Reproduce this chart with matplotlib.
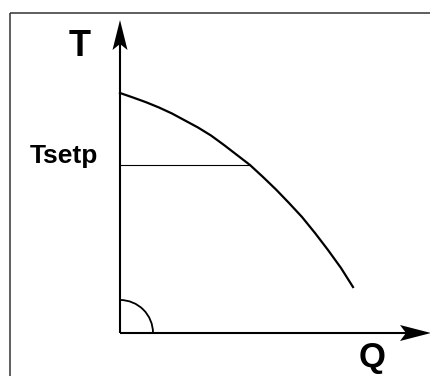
"""Pump curve sketch: T against Q with a setpoint line."""
import matplotlib
matplotlib.use("Agg")
import matplotlib.pyplot as plt
from matplotlib.patches import Arc, Polygon

# ================== Data ================== #
# curve (axis units = pixels from the origin)
q_curve = [0, 13, 26, 39, 52, 65, 78, 91, 104, 117, 130,
           143, 156, 169, 182, 195, 208, 221, 233]
t_curve = [240, 235.5, 230.8, 225.5, 219.5, 212.5, 205.5, 197.5, 188, 178, 168,
           156, 143.5, 130, 116, 100, 83, 65, 46]
t_setp = 168
q_setp = 130

x_label = "Q"
y_label = "T"
setp_label = "Tsetp"

# ================== Figure ================== #
plt.rcParams["font.family"] = ["Liberation Sans", "DejaVu Sans"]
fig = plt.figure(figsize=(4.31, 3.76), dpi=100)
ax = fig.add_axes([0, 0, 1, 1])
ax.set_xlim(-120, 311)
ax.set_ylim(-43, 333)
ax.axis("off")

# frame (cropped: only top and left visible)
ax.plot([-110, 311], [320, 320], color="#333333", lw=1.1, solid_capstyle="butt")
ax.plot([-110, -110], [320, -43], color="#333333", lw=1.1, solid_capstyle="butt")

# axes with notched arrow heads
y_tip, x_tip = 313, 311
ax.plot([0, 0], [0, y_tip - 24], color="black", lw=1.5, solid_capstyle="butt")
ax.plot([0, x_tip - 25], [0, 0], color="black", lw=1.5, solid_capstyle="butt")
ax.add_patch(Polygon([(0, y_tip), (7.5, y_tip - 30), (0, y_tip - 24),
                      (-7.5, y_tip - 30)], closed=True, color="black", lw=0))
ax.add_patch(Polygon([(x_tip, 0), (x_tip - 31, 8), (x_tip - 25, 0),
                      (x_tip - 31, -8)], closed=True, color="black", lw=0))

# right angle marker
ax.add_patch(Arc((0, 0), 66, 66, theta1=0, theta2=90, color="black", lw=1.3))

# pump curve and setpoint line
ax.plot(q_curve, t_curve, color="black", lw=1.6, solid_joinstyle="round")
ax.plot([0, q_setp], [t_setp, t_setp], color="black", lw=0.8)

# labels
ax.text(-40, 286, y_label, fontsize=26, fontweight="bold", ha="center", va="center")
ax.text(-90, 170, setp_label, fontsize=19, fontweight="bold", ha="left", va="baseline")
ax.text(252, -34, x_label, fontsize=25, fontweight="bold", ha="center", va="baseline")

fig.savefig("out.png", dpi=100)
